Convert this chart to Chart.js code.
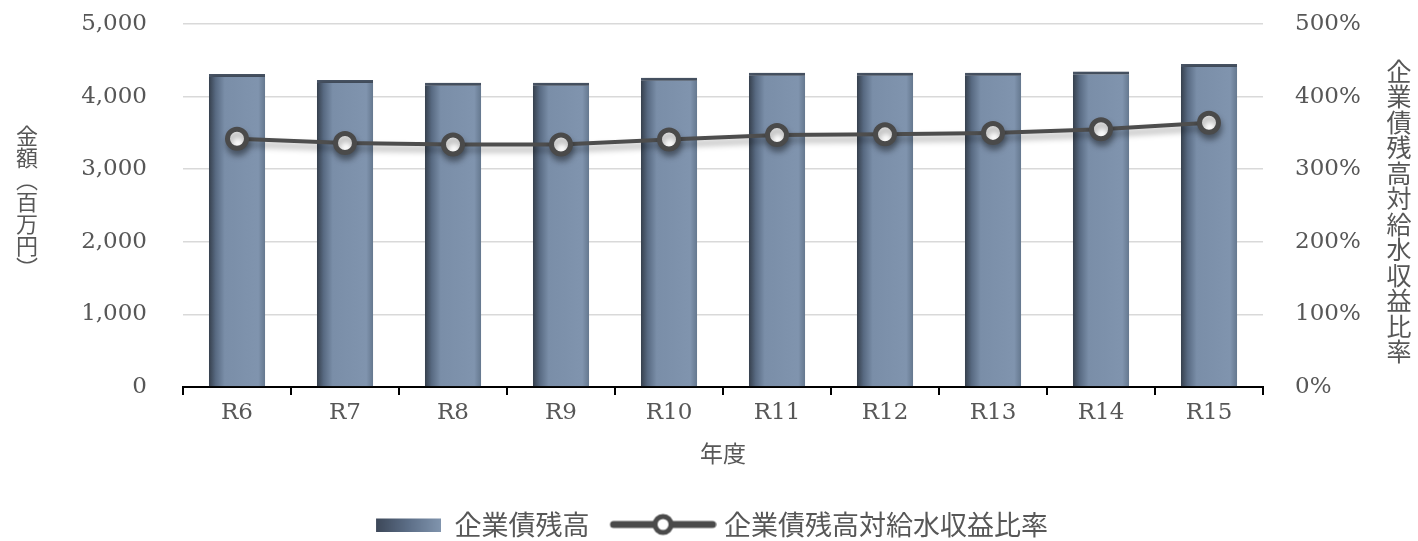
<!DOCTYPE html>
<html><head><meta charset="utf-8">
<script src="https://cdn.jsdelivr.net/npm/chart.js@4"></script>
<style>html,body{margin:0;padding:0;background:#fff}#wrap{width:1418px;height:541px}</style>
</head><body><div id="wrap"><canvas id="c" width="1418" height="541"></canvas></div>
<script>
const categories = ['R6','R7','R8','R9','R10','R11','R12','R13','R14','R15'];
const bondBalance = [4310,4230,4190,4190,4260,4330,4330,4330,4345,4450];
const bondRatio = [342,336,334,334,341,347,348,350,355,364];
const leftTicks = [0,1000,2000,3000,4000,5000];
const rightTicks = [0,100,200,300,400,500];
const seriesNames = ['企業債残高','企業債残高対給水収益比率'];
const leftTitle = ['金','額','︵','百','万','円','︶'];
const rightTitle = '企業債残高対給水収益比率'.split('');
const xTitle = '年度';

const TXT = '#575757';
const SERIF = "'DejaVu Serif', serif";
const CJK = "'Noto Sans CJK JP', sans-serif";

function barSwatch(){
  const c = document.createElement('canvas'); c.width = 107; c.height = 14;
  const g = c.getContext('2d');
  const gr = g.createLinearGradient(42,0,107,0);
  gr.addColorStop(0,'#3d4859'); gr.addColorStop(0.5,'#5d6f88'); gr.addColorStop(1,'#8195ae');
  g.fillStyle = gr; g.fillRect(42,1,65,13);
  return c;
}
function lineSwatch(){
  const c = document.createElement('canvas'); c.width = 119; c.height = 26;
  const g = c.getContext('2d');
  g.strokeStyle = '#4a4a4a'; g.lineWidth = 7; g.lineCap = 'round';
  g.beginPath(); g.moveTo(16,13); g.lineTo(115,13); g.stroke();
  g.beginPath(); g.arc(65.5,13,8,0,Math.PI*2); g.fillStyle='#fff'; g.fill();
  g.lineWidth = 5; g.stroke();
  return c;
}

const shadowPlugin = {
  id: 'shadows',
  beforeDatasetDraw(chart, args){
    const ctx = chart.ctx; ctx.save();
    if (args.index === 0){
      ctx.shadowColor = 'rgba(0,0,0,0.30)'; ctx.shadowBlur = 6; ctx.shadowOffsetX = 2; ctx.shadowOffsetY = 0;
    } else {
      ctx.shadowColor = 'rgba(0,0,0,0.35)'; ctx.shadowBlur = 6; ctx.shadowOffsetX = 1; ctx.shadowOffsetY = 5;
    }
  },
  afterDatasetDraw(chart){ chart.ctx.restore(); }
};

const verticalTitles = {
  id: 'verticalTitles',
  afterDraw(chart){
    const ctx = chart.ctx; ctx.save();
    ctx.fillStyle = TXT; ctx.textAlign = 'center'; ctx.textBaseline = 'middle';
    ctx.font = '22px ' + CJK;
    leftTitle.forEach((ch,i)=>{ ctx.fillText(ch, 27, 136 + i*22); });
    ctx.font = '25px ' + CJK;
    rightTitle.forEach((ch,i)=>{ ctx.fillText(ch, 1399, 71 + i*25.5); });
    ctx.restore();
  }
};

function fixVertical(width){
  return (s) => { s.width = width; s.paddingTop = 14; s.paddingBottom = 14; };
}

new Chart(document.getElementById('c'), {
  data: {
    labels: categories,
    datasets: [
      {
        type: 'bar', label: seriesNames[0], data: bondBalance, yAxisID: 'y', order: 2,
        barPercentage: 0.52, categoryPercentage: 1,
        backgroundColor: (ctx) => {
          const chart = ctx.chart; const xs = chart.scales.x;
          if (!xs || ctx.type !== 'data' || !chart.chartArea) return '#7d91ab';
          const cx = xs.getPixelForValue(ctx.dataIndex);
          const w = 56;
          const g = chart.ctx.createLinearGradient(cx - w/2, 0, cx + w/2, 0);
          g.addColorStop(0, '#36404d');
          g.addColorStop(0.12, '#586a82');
          g.addColorStop(0.28, '#7a8ea8');
          g.addColorStop(0.88, '#8094ae');
          g.addColorStop(1, '#65788f');
          return g;
        },
        borderColor: '#4a5667',
        borderWidth: {top: 3, left: 0, right: 0, bottom: 0},
        borderSkipped: 'bottom'
      },
      {
        type: 'line', label: seriesNames[1], data: bondRatio, yAxisID: 'y1', order: 1,
        borderColor: '#4d4d4d', borderWidth: 4, tension: 0,
        pointRadius: 9.5, pointBorderWidth: 5, pointBackgroundColor: '#ffffff', pointBorderColor: '#4a4a4a',
        pointHoverRadius: 9.5
      }
    ]
  },
  options: {
    responsive: false, animation: false, devicePixelRatio: 1,
    layout: { padding: { top: 24, bottom: -7, left: 0, right: 36 } },
    plugins: {
      tooltip: { enabled: false },
      legend: {
        position: 'bottom',
        labels: {
          usePointStyle: true, pointStyleWidth: 107, padding: 14,
          color: TXT, font: { family: CJK, size: 27 },
          generateLabels: () => [
            { text: seriesNames[0], pointStyle: barSwatch(), fillStyle: '#7d91ab', strokeStyle: '#7d91ab', lineWidth: 0, datasetIndex: 0, fontColor: TXT },
            { text: seriesNames[1], pointStyle: lineSwatch(), fillStyle: '#fff', strokeStyle: '#4d4d4d', lineWidth: 0, datasetIndex: 1, fontColor: TXT }
          ]
        }
      }
    },
    scales: {
      x: {
        type: 'category', offset: true,
        grid: { offset: true, drawOnChartArea: false, drawTicks: true, tickLength: 8, color: '#000', lineWidth: 2 },
        border: { display: true, color: '#000', width: 2 },
        ticks: { color: TXT, font: { family: SERIF, size: 23 }, padding: 4 },
        title: { display: true, text: xTitle, color: TXT, font: { family: CJK, size: 23 }, padding: { top: 0, bottom: 30 } },
        afterFit: (s) => { s.height = 110; }
      },
      y: {
        position: 'left', min: 0, max: 5000,
        afterBuildTicks: (s) => { s.ticks = leftTicks.map(v => ({ value: v })); },
        ticks: { color: TXT, font: { family: SERIF, size: 23 }, padding: 36, callback: (v) => v.toLocaleString('en-US') },
        grid: { color: '#d9d9d9', lineWidth: 1.5, drawTicks: false },
        border: { display: false },
        afterFit: fixVertical(183)
      },
      y1: {
        position: 'right', min: 0, max: 500,
        afterBuildTicks: (s) => { s.ticks = rightTicks.map(v => ({ value: v })); },
        ticks: { color: TXT, font: { family: SERIF, size: 23 }, padding: 32, callback: (v) => v + '%' },
        grid: { display: false, drawOnChartArea: false, drawTicks: false },
        border: { display: false },
        afterFit: fixVertical(119)
      }
    }
  },
  plugins: [shadowPlugin, verticalTitles]
});
</script></body></html>
